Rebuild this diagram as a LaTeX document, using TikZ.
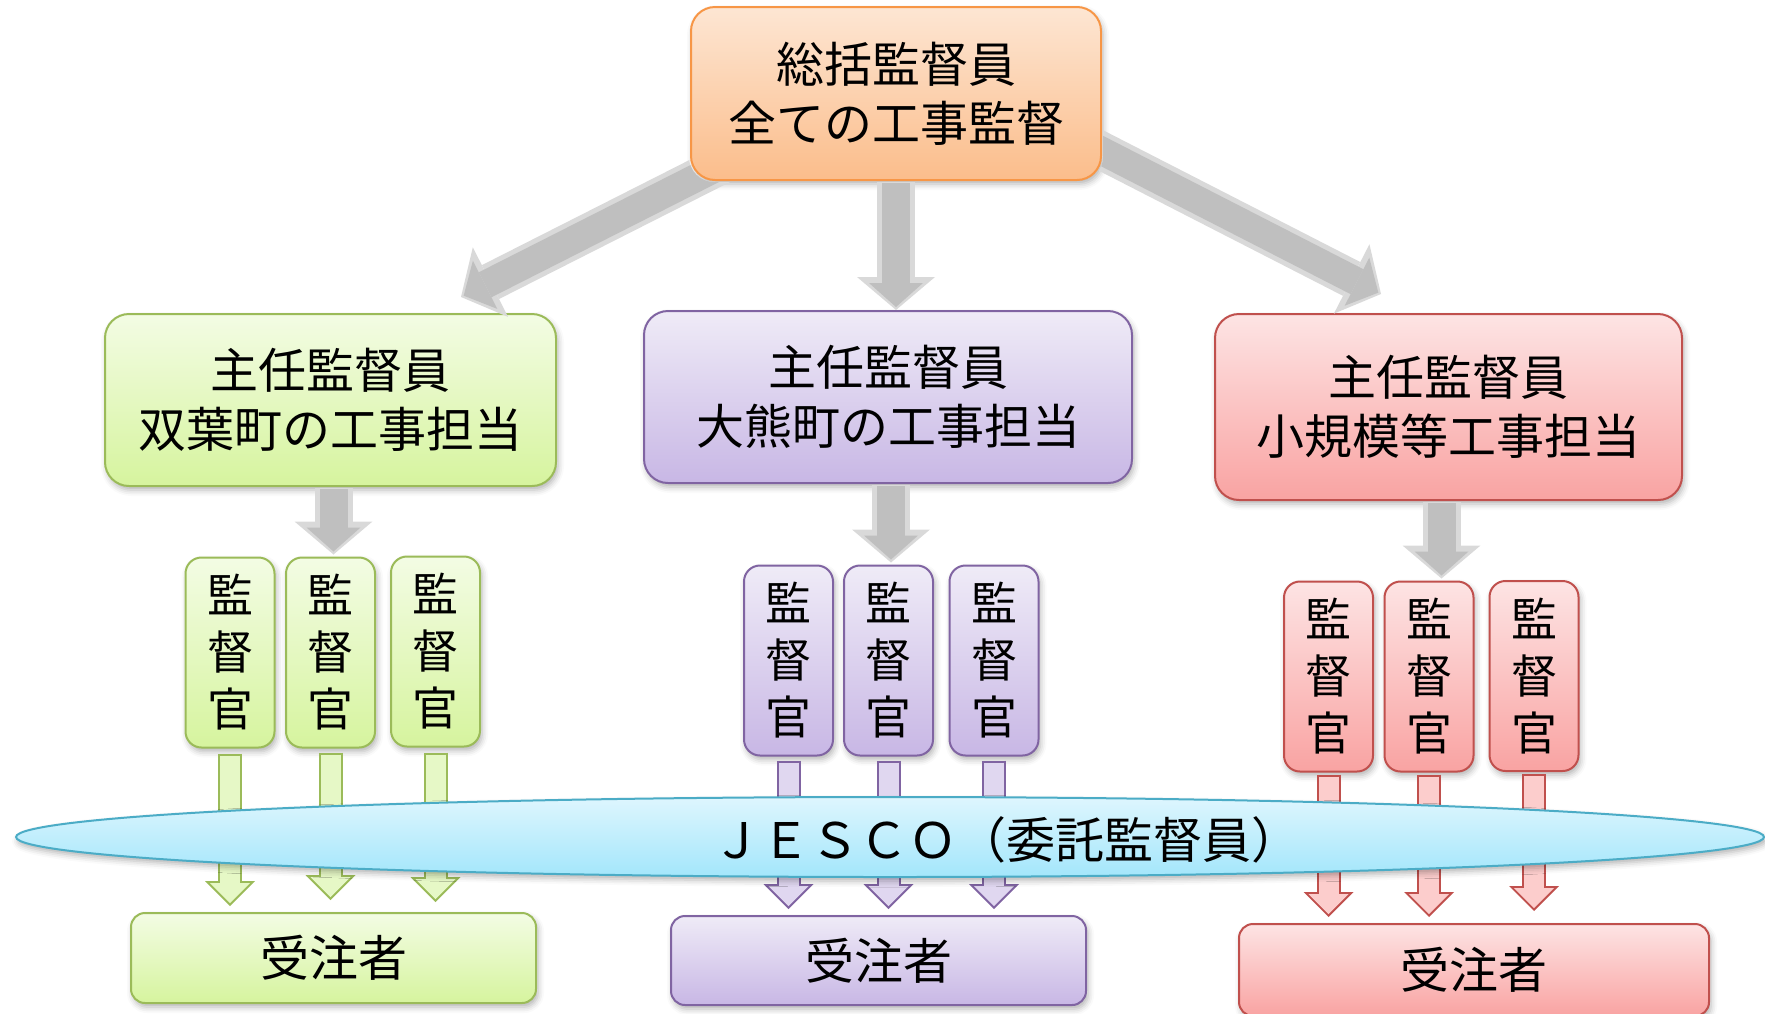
\documentclass[tikz,border=0pt]{standalone}
\usepackage{fontspec}
\setmainfont{Noto Sans CJK JP}
\usetikzlibrary{arrows.meta}
\usetikzlibrary{calc}
\usetikzlibrary{shapes.geometric}
\usetikzlibrary{shadows.blur}

\definecolor{orgline}{HTML}{F79646}
\definecolor{orgtop}{HTML}{FDE6D3}
\definecolor{orgbot}{HTML}{FBBD8B}
\definecolor{grnline}{HTML}{9BBB59}
\definecolor{grntop}{HTML}{F3FCE4}
\definecolor{grnbot}{HTML}{D6F49E}
\definecolor{grnfill}{HTML}{E6F8C6}
\definecolor{purline}{HTML}{8064A2}
\definecolor{purtop}{HTML}{EFEBF7}
\definecolor{purbot}{HTML}{C8B7E5}
\definecolor{purfill}{HTML}{E0D7F0}
\definecolor{redline}{HTML}{C0504D}
\definecolor{redtop}{HTML}{FDE4E4}
\definecolor{redbot}{HTML}{F9A3A2}
\definecolor{redfill}{HTML}{FCCDCC}
\definecolor{bluline}{HTML}{4BACC6}
\definecolor{blutop}{HTML}{DEF6FE}
\definecolor{blubot}{HTML}{A3E6FB}
\definecolor{arrowedge}{HTML}{D9D9D9}
\definecolor{arrowfill}{HTML}{BFBFBF}

\begin{document}
\begin{tikzpicture}[x=0.5pt,y=-0.5pt,
    softshadow/.style={blur shadow={shadow xshift=1pt,shadow yshift=-2pt,shadow blur radius=3pt,shadow opacity=30}},
    org/.style={draw=orgline,top color=orgtop,bottom color=orgbot},
    grn/.style={draw=grnline,top color=grntop,bottom color=grnbot},
    pur/.style={draw=purline,top color=purtop,bottom color=purbot},
    red/.style={draw=redline,top color=redtop,bottom color=redbot},
    bigbox/.style={line width=1pt,rounded corners=12pt,inner sep=0pt,align=center,
        font=\fontsize{24}{29.5}\selectfont,softshadow},
    kanbox/.style={line width=1pt,rounded corners=8pt,inner sep=0pt,align=center,
        minimum width=44.5pt,minimum height=95pt,font=\fontsize{23}{28.5}\selectfont,softshadow},
    orderbox/.style={line width=1pt,rounded corners=7pt,inner sep=0pt,
        font=\fontsize{24.5}{29}\selectfont,softshadow},
    bigedge/.style={draw=arrowedge,line width=19pt,-{Triangle[width=39pt,length=16.5pt,line width=0pt]}},
    bigcore/.style={draw=arrowfill,line width=14pt,shorten <=0.5pt,shorten >=1.5pt,-{Triangle[width=27pt,length=12pt,line width=0pt]}},
    subedge/.style={draw=#1,line width=12pt,-{Triangle[width=25pt,length=12.5pt,line width=0pt]}},
    subcore/.style={draw=#1,line width=10pt,shorten <=1pt,shorten >=1.4pt,-{Triangle[width=20pt,length=10pt,line width=0pt]}}]
    \useasboundingbox (0,0) rectangle (1765,1013);

    \coordinate (tipL) at (461,297);
    \coordinate (tipR) at (1381,294);
    \node[bigbox,org,minimum width=205pt,minimum height=86.5pt] (chief) at (896,93.5) {総括監督員\\全ての工事監督};
    \node[bigbox,grn,minimum width=225.5pt,minimum height=86pt] (futaba) at (330.5,400) {主任監督員\\双葉町の工事担当};
    \node[bigbox,pur,minimum width=244pt,minimum height=86pt] (okuma) at (888,397) {主任監督員\\大熊町の工事担当};
    \node[bigbox,red,minimum width=233.5pt,minimum height=93pt] (minor) at (1448.5,407) {主任監督員\\小規模等工事担当};

    \node[kanbox,grn] (g1) at (230,652.5) {監\\督\\官};
    \node[kanbox,grn] (g2) at (330.5,652.5) {監\\督\\官};
    \node[kanbox,grn] (g3) at (435.5,651.5) {監\\督\\官};
    \node[kanbox,pur] (p1) at (788.5,660.5) {監\\督\\官};
    \node[kanbox,pur] (p2) at (888.5,660.5) {監\\督\\官};
    \node[kanbox,pur] (p3) at (994,660.5) {監\\督\\官};
    \node[kanbox,red] (r1) at (1328.5,676.5) {監\\督\\官};
    \node[kanbox,red] (r2) at (1429,676.5) {監\\督\\官};
    \node[kanbox,red] (r3) at (1534,676) {監\\督\\官};

    \node[orderbox,grn,minimum width=202.5pt,minimum height=45pt] (gc) at (333.5,958) {受注者};
    \node[orderbox,pur,minimum width=207.5pt,minimum height=44.5pt] (pc) at (878.5,960.5) {受注者};
    \node[orderbox,red,minimum width=235pt,minimum height=46pt] (rc) at (1474,970) {受注者};

    % diagonal arrows leave from under the top box
    \begin{scope}
        \clip (0,0) rectangle (1765,1013) [rounded corners=12.5pt]
            ([shift={(-0.5pt,0.5pt)}]chief.north west) -- ([shift={(0.5pt,0.5pt)}]chief.north east)
            -- ([shift={(0.5pt,-0.5pt)}]chief.south east) -- ([shift={(-0.5pt,-0.5pt)}]chief.south west) -- cycle;
        \draw[bigedge] ($(tipL)!1.4!(chief.south west)$) -- (tipL);
        \draw[bigcore] ($(tipL)!1.4!(chief.south west)$) -- (tipL);
        \draw[bigedge] ($(tipR)!1.3!([yshift=15pt]chief.south east)$) -- (tipR);
        \draw[bigcore] ($(tipR)!1.3!([yshift=15pt]chief.south east)$) -- (tipR);
    \end{scope}
    \draw[bigedge] ([yshift=-0.5pt]chief.south) -- (chief.south |- okuma.north);
    \draw[bigcore] ([yshift=-0.5pt]chief.south) -- (chief.south |- okuma.north);
    \draw[bigedge] ([xshift=1.5pt,yshift=-0.5pt]futaba.south) -- ($([xshift=1.5pt]futaba.south |- g2.north)+(0,-2)$);
    \draw[bigcore] ([xshift=1.5pt,yshift=-0.5pt]futaba.south) -- ($([xshift=1.5pt]futaba.south |- g2.north)+(0,-2)$);
    \draw[bigedge] ([xshift=1.5pt,yshift=-0.5pt]okuma.south) -- ($([xshift=1.5pt]okuma.south |- p2.north)+(0,-2)$);
    \draw[bigcore] ([xshift=1.5pt,yshift=-0.5pt]okuma.south) -- ($([xshift=1.5pt]okuma.south |- p2.north)+(0,-2)$);
    \draw[bigedge] ([xshift=-3.5pt,yshift=-0.5pt]minor.south) -- ($([xshift=-3.5pt]minor.south |- r2.north)+(0,-2)$);
    \draw[bigcore] ([xshift=-3.5pt,yshift=-0.5pt]minor.south) -- ($([xshift=-3.5pt]minor.south |- r2.north)+(0,-2)$);

    \draw[subedge=grnline] ([yshift=-2.5pt]g1.south) -- ($(g1.south |- gc.north)+(0,-6)$);
    \draw[subcore=grnfill] ([yshift=-2.5pt]g1.south) -- ($(g1.south |- gc.north)+(0,-6)$);
    \draw[subedge=grnline] ([yshift=-2pt]g2.south) -- ($(g2.south |- gc.north)+(0,-12)$);
    \draw[subcore=grnfill] ([yshift=-2pt]g2.south) -- ($(g2.south |- gc.north)+(0,-12)$);
    \draw[subedge=grnline] ([yshift=-2.5pt]g3.south) -- ($(g3.south |- gc.north)+(0,-10)$);
    \draw[subcore=grnfill] ([yshift=-2.5pt]g3.south) -- ($(g3.south |- gc.north)+(0,-10)$);
    \draw[subedge=purline] ([yshift=-2pt]p1.south) -- ($(p1.south |- pc.north)+(0,-6)$);
    \draw[subcore=purfill] ([yshift=-2pt]p1.south) -- ($(p1.south |- pc.north)+(0,-6)$);
    \draw[subedge=purline] ([yshift=-2pt]p2.south) -- ($(p2.south |- pc.north)+(0,-6)$);
    \draw[subcore=purfill] ([yshift=-2pt]p2.south) -- ($(p2.south |- pc.north)+(0,-6)$);
    \draw[subedge=purline] ([yshift=-2pt]p3.south) -- ($(p3.south |- pc.north)+(0,-6)$);
    \draw[subcore=purfill] ([yshift=-2pt]p3.south) -- ($(p3.south |- pc.north)+(0,-6)$);
    \draw[subedge=redline] ([yshift=-1pt]r1.south) -- ($(r1.south |- rc.north)+(0,-6)$);
    \draw[subcore=redfill] ([yshift=-1pt]r1.south) -- ($(r1.south |- rc.north)+(0,-6)$);
    \draw[subedge=redline] ([yshift=-1pt]r2.south) -- ($(r2.south |- rc.north)+(0,-6)$);
    \draw[subcore=redfill] ([yshift=-1pt]r2.south) -- ($(r2.south |- rc.north)+(0,-6)$);
    \draw[subedge=redline] ([yshift=-1pt]r3.south) -- ($(r3.south |- rc.north)+(0,-12)$);
    \draw[subcore=redfill] ([yshift=-1pt]r3.south) -- ($(r3.south |- rc.north)+(0,-12)$);

    \node[ellipse,draw=bluline,top color=blutop,bottom color=blubot,line width=1pt,inner sep=0pt,
        minimum width=874pt,minimum height=40pt,softshadow] (band) at (890,837) {};
    \node[font=\fontsize{24.5}{29}\selectfont] (jesco) at (1006,840) {ＪＥＳＣＯ（委託監督員）};
\end{tikzpicture}
\end{document}
